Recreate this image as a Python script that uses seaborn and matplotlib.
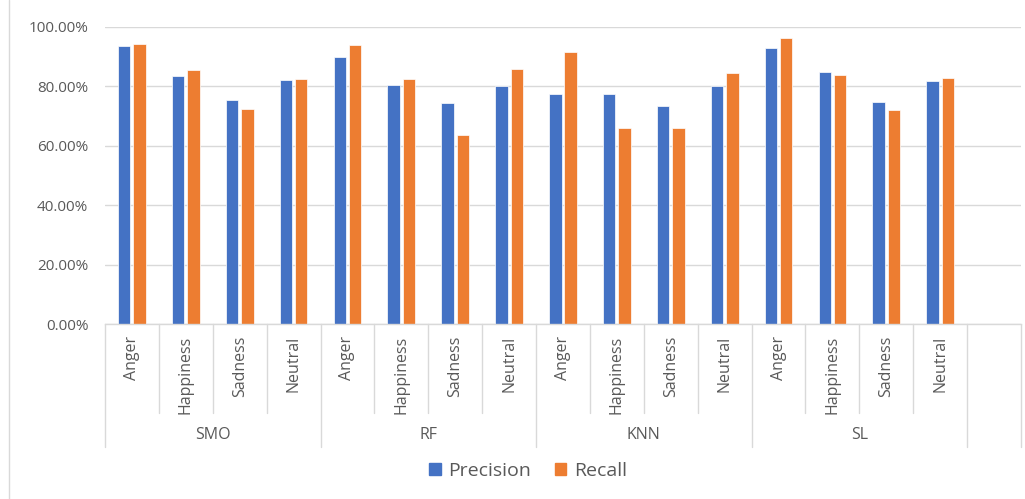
import matplotlib
matplotlib.use("Agg")
import matplotlib.pyplot as plt
from matplotlib.lines import Line2D
import pandas as pd
import seaborn as sns

# Classifiers and emotion classes
models = ["SMO", "RF", "KNN", "SL"]
emotions = ["Anger", "Happiness", "Sadness", "Neutral"]

# Scores in percent, ordered model by model, emotion by emotion
precision = [93.5, 83.4, 75.5, 82.2,
             89.8, 80.5, 74.4, 80.3,
             77.3, 77.4, 73.5, 80.0,
             92.9, 84.9, 74.6, 81.8]
recall = [94.3, 85.4, 72.5, 82.6,
          94.0, 82.5, 63.5, 85.7,
          91.5, 66.1, 66.1, 84.6,
          96.2, 83.9, 71.9, 82.7]

y_ticks = [0, 20, 40, 60, 80, 100]

slots = [f"{m}|{e}" for m in models for e in emotions]
df = pd.DataFrame({
    "slot": slots * 2,
    "value": precision + recall,
    "metric": ["Precision"] * len(slots) + ["Recall"] * len(slots),
})

sns.set_theme(style="white")
plt.rcParams["font.family"] = ["Open Sans", "DejaVu Sans"]

W, H = 1025, 499
fig = plt.figure(figsize=(W / 100, H / 100), dpi=100)
x0, x1, y_top, y_bot = 105, 1021, 27, 324
ax = fig.add_axes([x0 / W, (H - y_bot) / H, (x1 - x0) / W, (y_bot - y_top) / H])

sns.barplot(data=df, x="slot", y="value", hue="metric", order=slots,
            palette={"Precision": "#4472C4", "Recall": "#ED7D31"},
            saturation=1, width=0.57, gap=0.19, edgecolor="white",
            linewidth=0.5, ax=ax, legend=False)

n_slots = len(slots) + 1  # one trailing empty slot on the category axis
ax.set_xlim(-0.5, n_slots - 0.5)
ax.set_ylim(0, 100)
ax.set_yticks(y_ticks)
ax.set_yticklabels([f"{v:.2f}%" for v in y_ticks], color="#595959", fontsize=11)
ax.tick_params(axis="y", length=0, pad=12)
ax.set_xticks([])
ax.set_xlabel("")
ax.set_ylabel("")
ax.yaxis.grid(True, color="#d9d9d9", linewidth=1)
ax.set_axisbelow(True)
for side in ["top", "right", "left"]:
    ax.spines[side].set_visible(False)
ax.spines["bottom"].set_color("#d9d9d9")
ax.spines["bottom"].set_linewidth(1)

# Two-level category axis drawn below the plot
ax_h = y_bot - y_top
def frac(py):
    return -(py - y_bot) / ax_h

trans = ax.get_xaxis_transform()
for i in range(n_slots + 1):
    xb = i - 0.5
    long_line = (i % 4 == 0) or i == n_slots
    y_end = 447 if long_line else 413
    ax.add_line(Line2D([xb, xb], [0, frac(y_end)], transform=trans,
                       color="#d9d9d9", linewidth=1, clip_on=False))

for i, s in enumerate(slots):
    emo = s.split("|")[1]
    ax.text(i, frac(336), emo, transform=trans, rotation=90,
            ha="center", va="top", fontsize=11.5, color="#595959")

for g, m in enumerate(models):
    ax.text(g * 4 + 1.5, frac(435), m, transform=trans,
            ha="center", va="center", fontsize=11.5, color="#595959")

# Legend
handles = [plt.Rectangle((0, 0), 1, 1, color="#4472C4"),
           plt.Rectangle((0, 0), 1, 1, color="#ED7D31")]
fig.legend(handles, ["Precision", "Recall"], loc="center",
           bbox_to_anchor=(528 / W, (H - 471) / H), ncol=2, frameon=False,
           fontsize=14, labelcolor="#595959", handlelength=0.6,
           handleheight=0.6, handletextpad=0.4, columnspacing=1.2)

# Chart area border on the left
fig.add_artist(Line2D([9 / W, 9 / W], [0, 1], transform=fig.transFigure,
                      color="#d9d9d9", linewidth=1))

fig.savefig("out.png", dpi=100)
